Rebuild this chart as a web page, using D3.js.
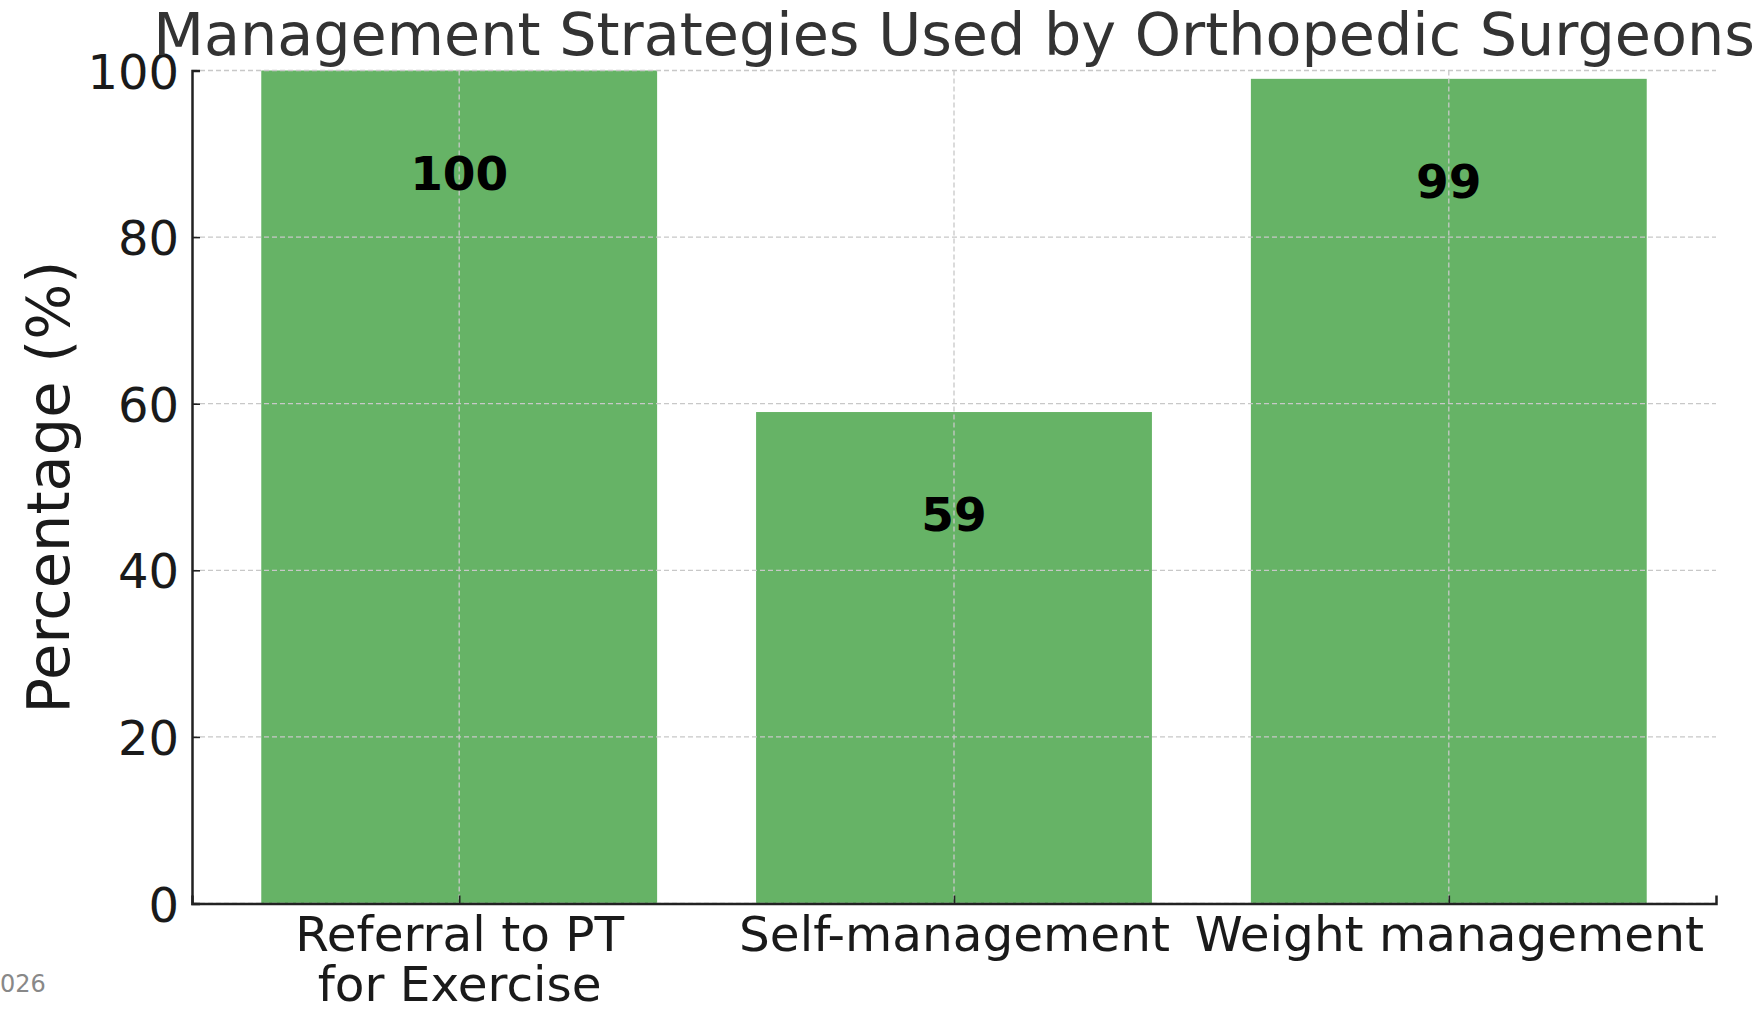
<!DOCTYPE html>
<html><head><meta charset="utf-8">
<script src="https://cdn.jsdelivr.net/npm/d3@7"></script>
<style>body{margin:0;background:#fff}svg{display:block}text{font-family:"DejaVu Sans",sans-serif}</style>
</head><body>
<svg id="c" width="1762" height="1009"></svg>
<script>
const categories = ["Referral to PT\nfor Exercise", "Self-management", "Weight management"];
const values = [100, 59, 99];
const yTicks = [0, 20, 40, 60, 80, 100];
const title = "Management Strategies Used by Orthopedic Surgeons";
const yLabel = "Percentage (%)";

const svg = d3.select("#c");
const L = 192, R = 1716, T = 70.5, B = 903.5;
const x = d3.scaleLinear().domain([-0.54, categories.length - 1 + 0.54]).range([L, R]);
const y = d3.scaleLinear().domain([0, 100]).range([B, T]);
const bw = 0.8;

// bars
svg.append("g").selectAll("rect").data(values).join("rect")
  .attr("x", (d, i) => x(i - bw / 2)).attr("width", x(bw) - x(0))
  .attr("y", d => y(d)).attr("height", d => y(0) - y(d))
  .attr("fill", "rgb(102,179,102)");

// grid on top
const g = svg.append("g").attr("stroke", "#c8c8c8").attr("stroke-width", 1.3).attr("stroke-dasharray", "5,3");
g.selectAll("line.h").data(yTicks).join("line").attr("class", "h")
  .attr("x1", L).attr("x2", R).attr("y1", d => y(d)).attr("y2", d => y(d));
g.selectAll("line.v").data(categories).join("line").attr("class", "v")
  .attr("x1", (d, i) => x(i)).attr("x2", (d, i) => x(i)).attr("y1", T).attr("y2", B);

// value labels
svg.append("g").selectAll("text").data(values).join("text")
  .attr("x", (d, i) => x(i)).attr("y", d => y(d - 12.25)).attr("dy", "0.3645em")
  .attr("text-anchor", "middle").attr("font-weight", "bold").attr("font-size", 47)
  .attr("fill", "#000").text(d => d);

// y axis
const ya = svg.append("g").attr("transform", `translate(${L},0)`)
  .call(d3.axisLeft(y).tickValues(yTicks).tickSize(-8).tickPadding(13).tickFormat(d3.format("d")));
ya.select(".domain").attr("stroke", "#222").attr("stroke-width", 2.5);
ya.selectAll(".tick line").attr("stroke", "#222").attr("stroke-width", 1.6);
ya.selectAll(".tick text").attr("font-size", 48).attr("fill", "#1a1a1a").attr("font-family", "DejaVu Sans")
  .attr("dy", "0.3645em");

// x axis
const xa = svg.append("g").attr("transform", `translate(0,${B})`)
  .call(d3.axisBottom(x).tickValues(d3.range(categories.length)).tickSize(-8).tickFormat(""));
xa.select(".domain").attr("stroke", "#222").attr("stroke-width", 2.5);
xa.selectAll(".tick line").attr("stroke", "#222").attr("stroke-width", 1.6);
xa.selectAll(".tick").each(function(d, i) {
  const lines = categories[i].split("\n");
  const t = d3.select(this).append("text").attr("fill", "#1a1a1a").attr("font-size", 48.5)
    .attr("text-anchor", "middle").attr("font-family", "DejaVu Sans");
  lines.forEach((ln, k) => t.append("tspan").attr("x", 0).attr("y", 47 + k * 50.7).text(ln));
});

// title
svg.append("text").attr("x", (L + R) / 2).attr("y", 55).attr("text-anchor", "middle")
  .attr("font-size", 58.8).attr("fill", "#333").text(title);

// y label
svg.append("text").attr("transform", `translate(69,${(T + B) / 2}) rotate(-90)`)
  .attr("text-anchor", "middle").attr("font-size", 59).attr("fill", "#1a1a1a").text(yLabel);

// watermark
svg.append("text").attr("x", 0).attr("y", 992).attr("font-size", 24).attr("fill", "#888").text("026");
</script>
</body></html>
